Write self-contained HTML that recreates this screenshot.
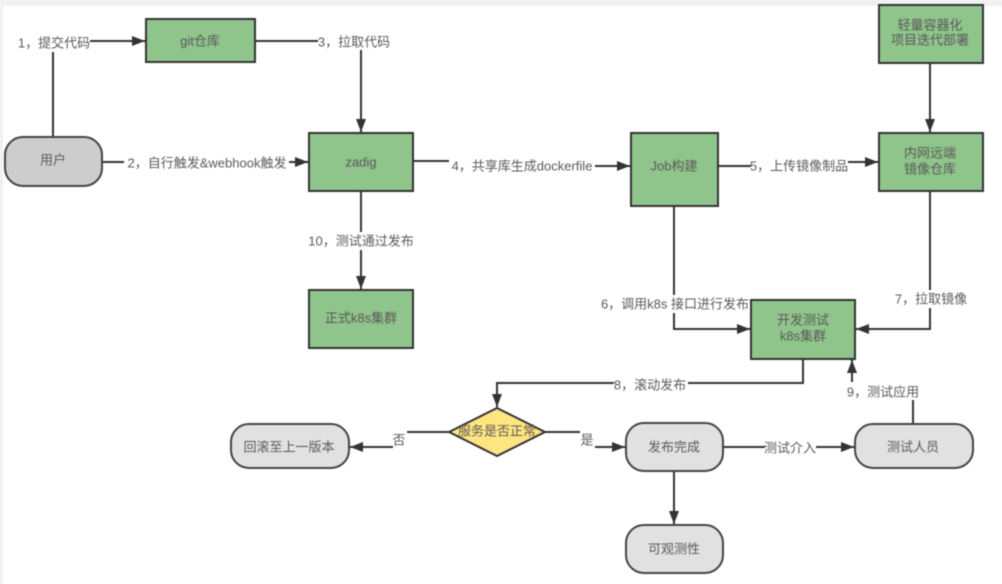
<!DOCTYPE html>
<html><head><meta charset="utf-8">
<style>
html,body{margin:0;padding:0;background:#fff}
svg{display:block;filter:blur(.4px)}
text{font-family:"Liberation Sans","Noto Sans CJK SC",sans-serif;font-size:13px;fill:#5a5a5a;text-anchor:middle;dominant-baseline:central}
.g{fill:#8fc48a;stroke:#333;stroke-width:2}
.r{fill:#e1e1e1;stroke:#444;stroke-width:2}
.l{fill:none;stroke:#333;stroke-width:2}
</style></head><body>
<svg width="1002" height="584" viewBox="0 0 1002 584" xmlns="http://www.w3.org/2000/svg">
<defs><marker id="a" markerUnits="userSpaceOnUse" markerWidth="14" markerHeight="10" refX="13" refY="5" orient="auto"><path d="M0 0L13 5L0 10z" fill="#333"/></marker></defs>
<rect width="1002" height="584" fill="#fff"/>
<rect width="1002" height="6" fill="#f0f0f0"/>
<rect width="3" height="584" fill="#f0f0f0"/>

<!-- connectors -->
<path class="l" d="M53 137V52"/>
<path class="l" d="M90 41H145" marker-end="url(#a)"/>
<path class="l" d="M255 41H318"/>
<path class="l" d="M361 50V132" marker-end="url(#a)"/>
<path class="l" d="M102 162H124"/>
<path class="l" d="M289 162H308" marker-end="url(#a)"/>
<path class="l" d="M413 161H449"/>
<path class="l" d="M595 166H630" marker-end="url(#a)"/>
<path class="l" d="M718 166H751"/>
<path class="l" d="M848 162H878" marker-end="url(#a)"/>
<path class="l" d="M930 63V132" marker-end="url(#a)"/>
<path class="l" d="M361 191V232"/>
<path class="l" d="M361 250V289" marker-end="url(#a)"/>
<path class="l" d="M674 206V295"/>
<path class="l" d="M674 313V329H750" marker-end="url(#a)"/>
<path class="l" d="M930 191V290"/>
<path class="l" d="M930 308V329H856" marker-end="url(#a)"/>
<path class="l" d="M803 359V383H688"/>
<path class="l" d="M614 383H497V407" marker-end="url(#a)"/>
<path class="l" d="M913 424V400"/>
<path class="l" d="M852 382V360" marker-end="url(#a)"/>
<path class="l" d="M449 432H407"/>
<path class="l" d="M393 447H350" marker-end="url(#a)"/>
<path class="l" d="M545 432H580"/>
<path class="l" d="M595 447H625" marker-end="url(#a)"/>
<path class="l" d="M723 447H765"/>
<path class="l" d="M816 447H854" marker-end="url(#a)"/>
<path class="l" d="M674 471V524" marker-end="url(#a)"/>

<!-- nodes -->
<rect class="g" x="146" y="19" width="109" height="43"/>
<rect x="5" y="137" width="97" height="49" rx="18" fill="#cdcdcd" stroke="#444" stroke-width="2"/>
<rect class="g" x="309" y="133" width="104" height="58"/>
<rect class="g" x="631" y="133" width="87" height="73"/>
<rect class="g" x="879" y="5" width="104" height="58"/>
<rect class="g" x="879" y="133" width="104" height="58"/>
<rect class="g" x="309" y="290" width="104" height="58"/>
<rect class="g" x="751" y="300" width="104" height="59"/>
<path d="M497 408L545 432L497 456L449 432z" fill="#ffe57f" stroke="#333" stroke-width="2"/>
<rect class="r" x="231" y="424" width="118" height="44" rx="18"/>
<rect class="r" x="626" y="423" width="97" height="48" rx="18"/>
<rect class="r" x="855" y="424" width="118" height="44" rx="18"/>
<rect class="r" x="626" y="525" width="97" height="48" rx="18"/>

<!-- node labels -->
<text x="200" y="41">git仓库</text>
<text x="53" y="160">用户</text>
<text x="361" y="162">zadig</text>
<text x="674" y="166">Job构建</text>
<text x="930" y="25">轻量容器化</text>
<text x="930" y="40">项目迭代部署</text>
<text x="930" y="153">内网远端</text>
<text x="930" y="169">镜像仓库</text>
<text x="361" y="318">正式k8s集群</text>
<text x="803" y="320">开发测试</text>
<text x="803" y="336">k8s集群</text>
<text x="497" y="431">服务是否正常</text>
<text x="289" y="447">回滚至上一版本</text>
<text x="674" y="447">发布完成</text>
<text x="913" y="447">测试人员</text>
<text x="674" y="549">可观测性</text>

<!-- connector labels -->
<text x="54" y="43">1，提交代码</text>
<text x="354" y="42">3，拉取代码</text>
<text x="207" y="163">2，自行触发&amp;webhook触发</text>
<text x="522" y="166">4，共享库生成dockerfile</text>
<text x="799" y="166">5，上传镜像制品</text>
<text x="361" y="241">10，测试通过发布</text>
<text x="675" y="304">6，调用k8s 接口进行发布</text>
<text x="931" y="299">7，拉取镜像</text>
<text x="650" y="385">8，滚动发布</text>
<text x="883" y="392">9，测试应用</text>
<text x="399" y="440">否</text>
<text x="587" y="440">是</text>
<text x="790" y="448">测试介入</text>
</svg>
</body></html>
